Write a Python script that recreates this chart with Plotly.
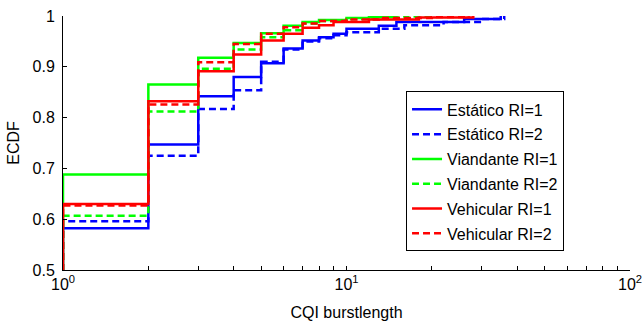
import plotly.graph_objects as go

# ECDF data: burst length support points and cumulative values
est1_x = [1, 2, 3, 4, 5, 6, 7, 8, 9, 10, 13, 15, 26, 35]
est1_y = [0.582, 0.747, 0.842, 0.880, 0.907, 0.936, 0.952, 0.958, 0.965, 0.975, 0.981, 0.988, 0.994, 1.0]

est2_x = [1, 2, 3, 4, 5, 6, 7, 8, 9, 10, 13, 16, 22, 30, 36]
est2_y = [0.596, 0.725, 0.817, 0.854, 0.910, 0.934, 0.950, 0.956, 0.962, 0.968, 0.975, 0.982, 0.988, 0.994, 1.0]

via1_x = [1, 2, 3, 4, 5, 6, 7, 8, 10, 12, 15]
via1_y = [0.688, 0.865, 0.918, 0.947, 0.966, 0.981, 0.988, 0.992, 0.996, 0.998, 1.0]

via2_x = [1, 2, 3, 4, 5, 6, 7, 8, 10, 12, 16, 20]
via2_y = [0.607, 0.812, 0.896, 0.934, 0.958, 0.972, 0.985, 0.990, 0.994, 0.997, 0.999, 1.0]

veh1_x = [1, 2, 3, 4, 5, 6, 7, 8, 9, 12, 18, 28]
veh1_y = [0.630, 0.832, 0.891, 0.924, 0.952, 0.965, 0.977, 0.982, 0.988, 0.993, 0.997, 1.0]

veh2_x = [1, 2, 3, 4, 5, 6, 7, 8, 10, 13, 20, 27]
veh2_y = [0.627, 0.826, 0.909, 0.945, 0.965, 0.978, 0.985, 0.990, 0.993, 0.996, 0.998, 1.0]

names = ["Estático RI=1", "Estático RI=2", "Viandante RI=1",
         "Viandante RI=2", "Vehicular RI=1", "Vehicular RI=2"]
series = [(est1_x, est1_y), (est2_x, est2_y), (via1_x, via1_y),
          (via2_x, via2_y), (veh1_x, veh1_y), (veh2_x, veh2_y)]
colors = ["#0000FF", "#0000FF", "#00FF00", "#00FF00", "#FF0000", "#FF0000"]
dashes = ["solid", "7px,4px", "solid", "7px,4px", "solid", "7px,4px"]

x_major = [1, 10, 100]
x_major_text = ["10<sup>0</sup>", "10<sup>1</sup>", "10<sup>2</sup>"]
x_minor = [2, 3, 4, 5, 6, 7, 8, 9, 20, 30, 40, 50, 60, 70, 80, 90]
y_tickvals = [0.5, 0.6, 0.7, 0.8, 0.9, 1.0]
y_ticktext = ["0.5", "0.6", "0.7", "0.8", "0.9", "1"]

FONT = "Arial, Liberation Sans, sans-serif"

fig = go.Figure()
for i, ((xs, ys), name) in enumerate(zip(series, names)):
    fig.add_trace(go.Scatter(
        x=[xs[0]] + xs, y=[0.0] + ys, mode="lines", name=name,
        line=dict(color=colors[i], width=2.5, dash=dashes[i], shape="hv"),
        legendgroup=f"g{i}",
    ))

fig.update_layout(
    width=644, height=323,
    margin=dict(l=63, r=14, t=16, b=53),
    paper_bgcolor="white", plot_bgcolor="white",
    font=dict(family=FONT, size=16, color="black"),
    showlegend=True,
    legend=dict(
        x=0.605, y=0.703, xanchor="left", yanchor="top",
        bgcolor="white", bordercolor="black", borderwidth=1,
        font=dict(family=FONT, size=16, color="black"),
        tracegroupgap=1, entrywidth=172,
    ),
    xaxis=dict(
        type="log", range=[0, 2], showgrid=False, zeroline=False,
        showline=True, linecolor="black", linewidth=1, automargin=False,
        ticks="inside", ticklen=4, tickcolor="black",
        tickvals=x_major, ticktext=x_major_text,
        minor=dict(tickvals=x_minor, ticks="inside", ticklen=4, tickcolor="black"),
        tickfont=dict(family=FONT, size=16, color="black"),
        title=dict(text="CQI burstlength", standoff=14,
                   font=dict(family=FONT, size=16, color="black")),
    ),
    yaxis=dict(
        range=[0.5, 1.0], showgrid=False, zeroline=False,
        showline=True, linecolor="black", linewidth=1, automargin=False,
        ticks="inside", ticklen=4, tickcolor="black",
        tickvals=y_tickvals, ticktext=y_ticktext,
        tickfont=dict(family=FONT, size=16, color="black"),
        ticklabelstandoff=4,
        title=dict(text="ECDF", standoff=8,
                   font=dict(family=FONT, size=16, color="black")),
    ),
)

fig.write_html("out.html")
